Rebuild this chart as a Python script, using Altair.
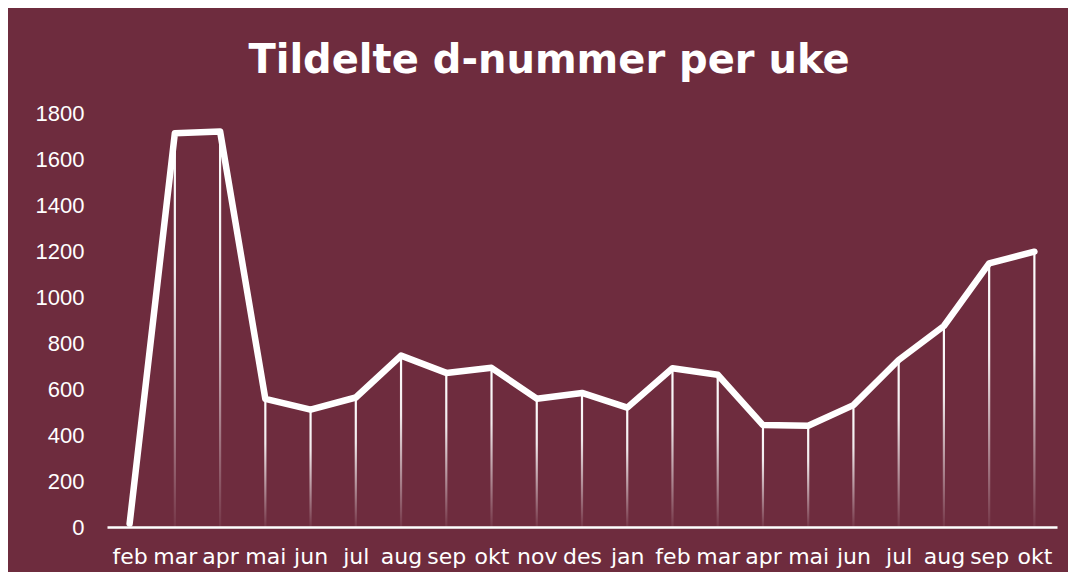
import altair as alt
import pandas as pd

months = ["feb", "mar", "apr", "mai", "jun", "jul", "aug", "sep", "okt", "nov", "des",
          "jan", "feb", "mar", "apr", "mai", "jun", "jul", "aug", "sep", "okt"]
values = [15, 1712, 1720, 557, 510, 563, 745, 670, 692, 558, 583,
          519, 690, 662, 443, 440, 530, 726, 874, 1146, 1197]
y_ticks = [0, 200, 400, 600, 800, 1000, 1200, 1400, 1600, 1800]

BG = "#6E2C3E"

df = pd.DataFrame({"i": list(range(len(months))), "month": months, "value": values})

label_array = "[" + ",".join("'" + m + "'" for m in months) + "]"

x_enc = alt.X(
    "i:Q",
    scale=alt.Scale(domain=[-0.5, len(months) - 0.5], nice=False, zero=False, padding=0),
    axis=alt.Axis(
        values=list(range(len(months))),
        labelExpr=label_array + "[datum.value]",
        title=None,
        grid=False,
        ticks=False,
        tickSize=0,
        domain=True,
        domainColor="white",
        domainWidth=2.5,
        labelColor="white",
        labelFont="DejaVu Sans",
        labelFontSize=22,
        labelPadding=19,
        labelOverlap=False,
        labelFlush=False,
    ),
)

y_enc = alt.Y(
    "value:Q",
    scale=alt.Scale(domain=[0, 1800], nice=False),
    axis=alt.Axis(
        values=y_ticks,
        format="d",
        title=None,
        grid=False,
        ticks=False,
        tickSize=0,
        domain=False,
        labelColor="white",
        labelFont="Liberation Sans",
        labelFontSize=22,
        labelPadding=23,
    ),
)

grad = alt.LinearGradient(
    gradient="linear",
    stops=[
        alt.GradientStop(color="rgba(255,255,255,1)", offset=0),
        alt.GradientStop(color="rgba(255,255,255,0.9)", offset=0.35),
        alt.GradientStop(color="rgba(255,255,255,0.05)", offset=1),
    ],
    x1=0, x2=0, y1=0, y2=1,
)

drops = alt.Chart(df).mark_bar(size=2.2, fill=grad).encode(x=x_enc, y=y_enc)

line = alt.Chart(df).mark_line(
    color="white", strokeWidth=6.5, strokeCap="round", strokeJoin="round"
).encode(x=x_enc, y=y_enc)

chart = (
    alt.layer(drops, line)
    .properties(
        width=950,
        height=414,
        background=BG,
        padding={"left": 99, "top": 105, "right": 11, "bottom": 45},
        autosize=alt.AutoSizeParams(type="none"),
        title=alt.TitleParams(
            "Tildelte d-nummer per uke",
            color="white",
            font="DejaVu Sans",
            fontSize=40,
            fontWeight="bold",
            anchor="middle",
            baseline="alphabetic",
            offset=34,
            dx=-33,
            dy=45,
        ),
    )
    .configure_view(stroke=None)
)

chart.save("out.html", embed_options={"renderer": "svg", "actions": False})
